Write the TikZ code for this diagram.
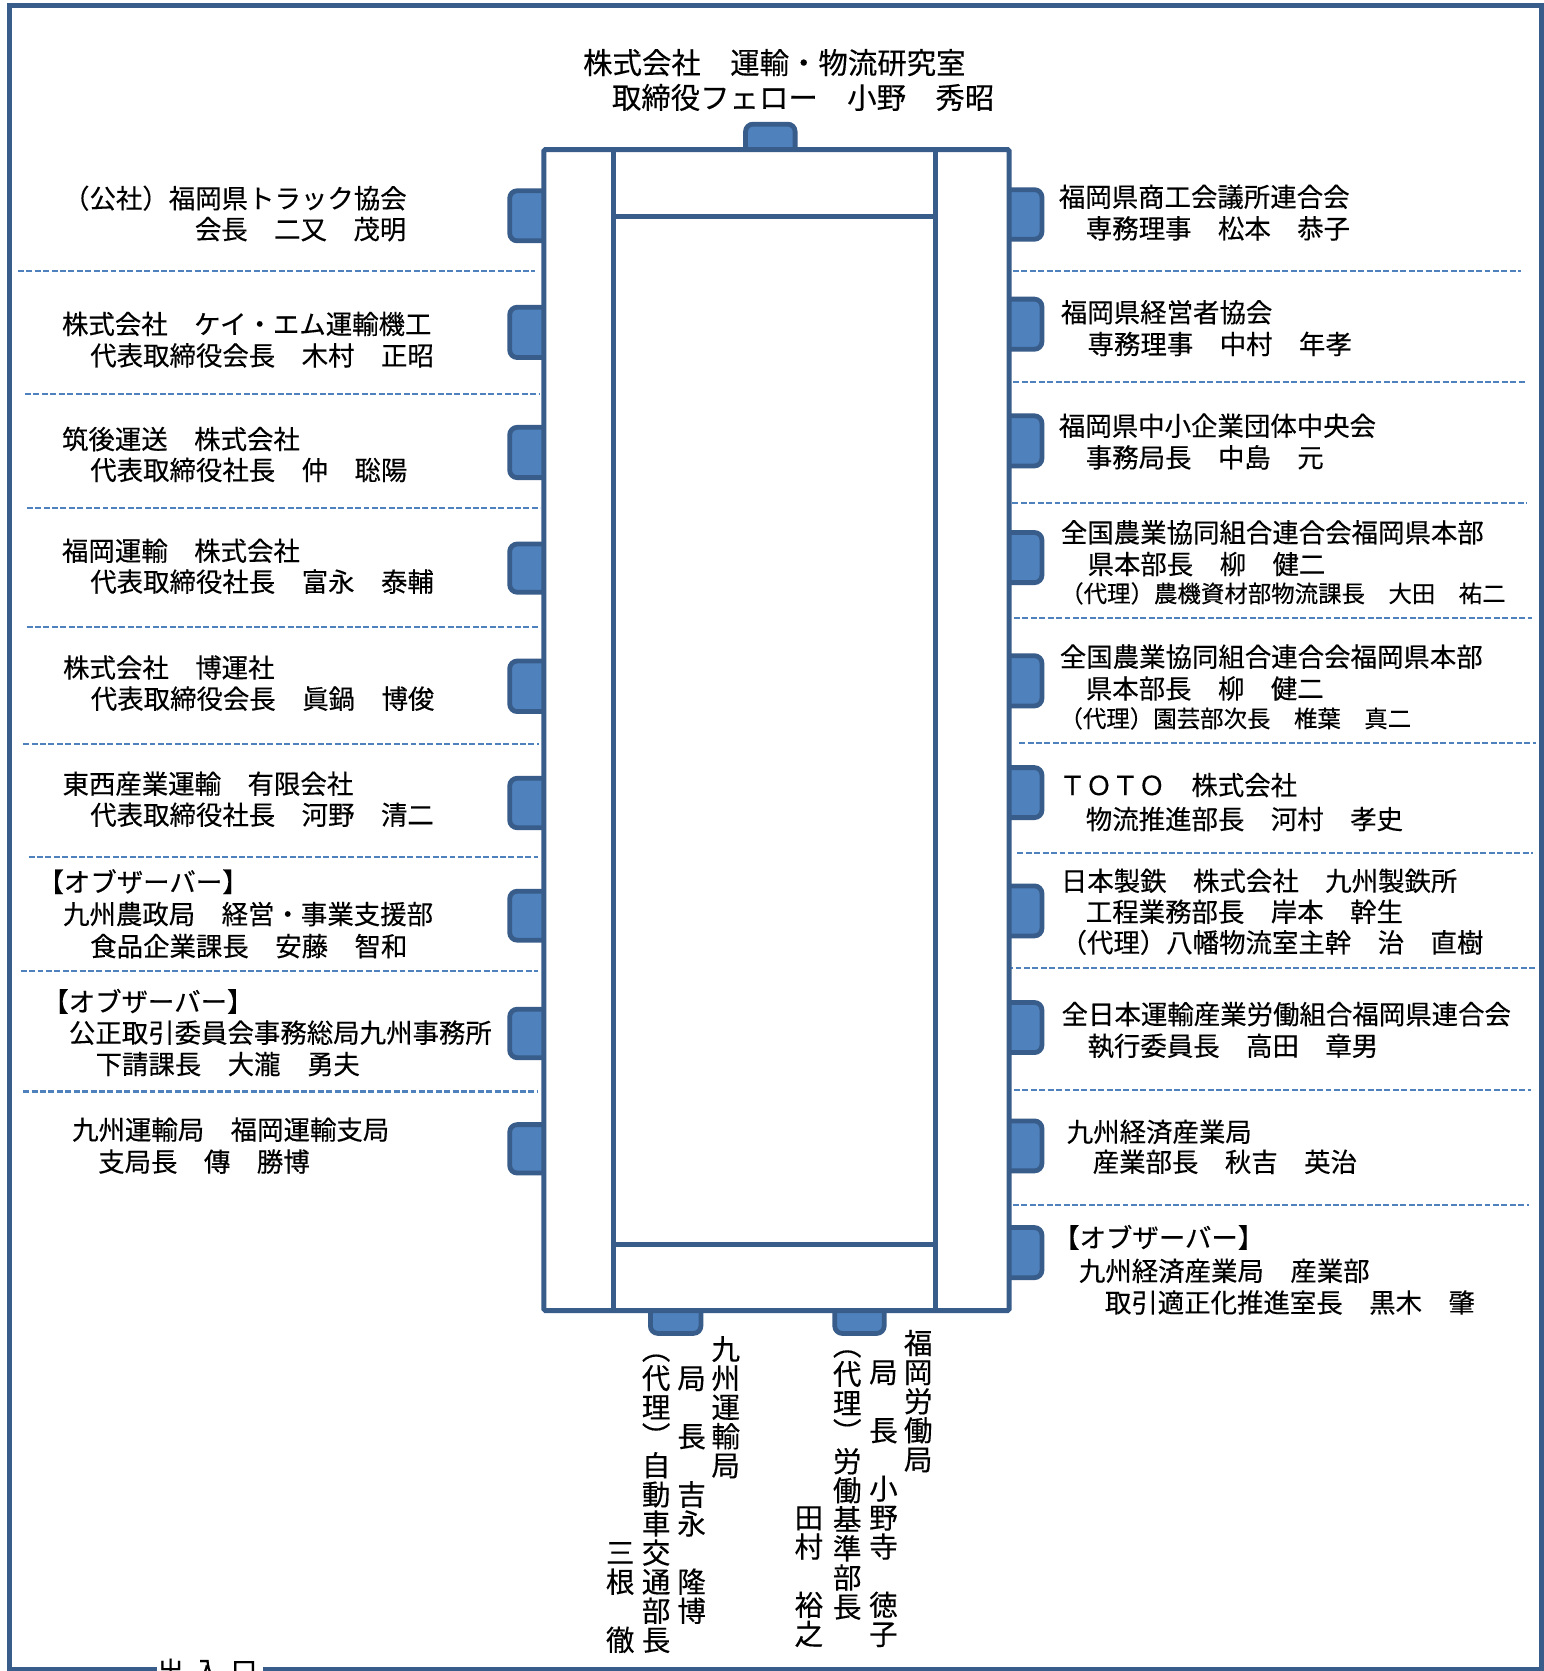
\documentclass[tikz,border=0pt]{standalone}
\usepackage{fontspec}
\newfontfamily\jp[FakeBold=0.3]{Noto Sans CJK JP}
\definecolor{frameblue}{HTML}{385D8A}
\definecolor{tabblue}{HTML}{4F81BD}
\newcommand\vcstrut{\vrule height 23.84pt depth 3.46pt width 0pt}
\ExplSyntaxOn
\NewDocumentCommand\vcol{m}
  {
    \vtop
      {
        \offinterlineskip
        \tl_map_inline:nn {#1}
          { \hbox_to_wd:nn {1em} { \hss \vcstrut ##1 \hss } }
      }
  }
\ExplSyntaxOff
\begin{document}
\begin{tikzpicture}[x=1pt,y=-1pt,
  lbl/.style={font=\jp\fontsize{24.8}{30}\selectfont, inner sep=0pt, text height=21.8pt, text depth=3pt, anchor=west},
  lblsm/.style={lbl, font=\jp\fontsize{22}{26}\selectfont, text height=19.4pt, text depth=2.6pt},
  ttl/.style={lbl, font=\jp\fontsize{27.6}{33}\selectfont, text height=24.3pt, text depth=3.3pt},
  vtxt/.style={font=\jp\fontsize{26.8}{27.3}\selectfont, inner sep=0pt, anchor=north},
  tabbox/.style={draw=frameblue, fill=tabblue, line width=4.5pt, rounded corners=7pt},
  sep/.style={draw=tabblue, line width=1.9pt, dash pattern=on 5.6pt off 2.3pt},
  tbl/.style={draw=frameblue, line width=4.7pt},
  frameline/.style={draw=frameblue, line width=4.7pt}
]
\useasboundingbox (0,0) rectangle (1448,1568);
\fill[white] (0,0) rectangle (1448,1568);

% separators
\foreach \y/\a/\b in {254/16.8/501.7, 369.8/23.5/506.8, 477/25.1/507, 588/25/506,
  698.5/21.8/506, 804/26.8/505, 911.2/19.4/505, 1024.2/21.8/505}
  \draw[sep] (\a,\y) -- (\b,\y);
\foreach \y/\a/\b in {254/950.6/1427.4, 358.8/951/1431.7, 472.3/950/1433, 580.3/951.5/1437.2,
  697.6/956.3/1441, 800.8/954.7/1438.7, 908.7/945/1440.5, 1022.9/951.5/1437, 1130.8/950.6/1435}
  \draw[sep] (\a,\y) -- (\b,\y);

% chair tabs
\foreach \t/\b in {179/226, 288.3/335.5, 401/448.2, 510.5/555.7, 620.3/667.7,
  730.3/776.7, 836.3/882.2, 947/992.5, 1055.3/1100.7}
  \draw[tabbox] (478.3,\t) rectangle (540,\b);
\foreach \t/\b in {178/224.5, 280.7/327.7, 390.2/437.2, 499.7/546.7, 615.3/662.4,
  720.3/767.2, 831.3/878.2, 940.7/987.7, 1051.8/1098.7, 1151.9/1198.9}
  \draw[tabbox] (920,\t) rectangle (977.7,\b);
\draw[tabbox] (699.6,116.5) rectangle (746.1,170);
\draw[tabbox] (610.3,1200) rectangle (657.7,1251.2);
\draw[tabbox] (783.3,1200) rectangle (829.7,1251.2);

% table
\fill[white] (510.3,140.3) rectangle (946.9,1229.8);
\draw[tbl, rounded corners=1.5pt] (510.3,140.3) rectangle (946.9,1229.8);
\draw[tbl] (575.3,140.3) -- (575.3,1229.8);
\draw[tbl] (877.9,140.3) -- (877.9,1229.8);
\draw[tbl] (575.3,202.7) -- (877.9,202.7);
\draw[tbl] (575.3,1167.6) -- (877.9,1167.6);

% outer frame
\draw[frameline] (147,1566.3) -- (8.9,1566.3) -- (8.9,5) -- (1446.4,5) -- (1446.4,1566.3) -- (247,1566.3);
\node[lbl, anchor=base] (door) at (194.6,1577) {出\kern9.6pt入\kern9.6pt口};

% title
\node[ttl] (t1) at (547,58.7) {株式会社　運輸・物流研究室};
\node[ttl] (t2) at (574,91.4) {取締役フェロー　小野　秀昭};

% left side
\node[lbl] (a1) at (59,186) {（公社）福岡県トラック協会};
\node[lbl] (a2) at (182.7,215) {会長　二又　茂明};
\node[lbl] (b1) at (58,304) {株式会社　ケイ・エム運輸機工};
\node[lbl] (b2) at (84.5,333.5) {代表取締役会長　木村　正昭};
\node[lbl] (c1) at (58,412) {筑後運送　株式会社};
\node[lbl] (c2) at (84.5,441) {代表取締役社長　仲　聡陽};
\node[lbl] (d1) at (58,516.8) {福岡運輸　株式会社};
\node[lbl] (d2) at (84.5,545.8) {代表取締役社長　富永　泰輔};
\node[lbl] (e1) at (59,626.4) {株式会社　博運社};
\node[lbl] (e2) at (85,655.6) {代表取締役会長　眞鍋　博俊};
\node[lbl] (f1) at (58.5,735.4) {東西産業運輸　有限会社};
\node[lbl] (f2) at (84.5,764.5) {代表取締役社長　河野　清二};
\node[lbl] (g1) at (35,827.5) {【オブザーバー】};
\node[lbl] (g2) at (59,857.7) {九州農政局　経営・事業支援部};
\node[lbl] (g3) at (84.5,887.8) {食品企業課長　安藤　智和};
\node[lbl] (h1) at (39.5,939.8) {【オブザーバー】};
\node[lbl] (h2) at (64.5,969) {公正取引委員会事務総局九州事務所};
\node[lbl] (h3) at (89.5,998.5) {下請課長　大瀧　勇夫};
\node[lbl] (i1) at (67.5,1060) {九州運輸局　福岡運輸支局};
\node[lbl] (i2) at (92,1090) {支局長　傳　勝博};

% right side
\node[lbl] (r1a) at (993.4,184.6) {福岡県商工会議所連合会};
\node[lbl] (r1b) at (1018.7,214.3) {専務理事　松本　恭子};
\node[lbl] (r2a) at (995.3,293) {福岡県経営者協会};
\node[lbl] (r2b) at (1020.3,322.8) {専務理事　中村　年孝};
\node[lbl] (r3a) at (993.4,399.5) {福岡県中小企業団体中央会};
\node[lbl] (r3b) at (1018.7,429.2) {事務局長　中島　元};
\node[lbl] (r4a) at (995.3,499.6) {全国農業協同組合連合会福岡県本部};
\node[lbl] (r4b) at (1020.3,529.3) {県本部長　柳　健二};
\node[lblsm] (r4c) at (994.7,556.8) {（代理）農機資材部物流課長　大田　祐二};
\node[lbl] (r5a) at (994.3,616.2) {全国農業協同組合連合会福岡県本部};
\node[lbl] (r5b) at (1018.7,646) {県本部長　柳　健二};
\node[lblsm] (r5c) at (994,674.1) {（代理）園芸部次長　椎葉　真二};
\node[lbl] (r6a) at (993.8,736.7) {ＴＯＴＯ　株式会社};
\node[lbl] (r6b) at (1018.7,768.6) {物流推進部長　河村　孝史};
\node[lbl] (r7a) at (995.3,826.5) {日本製鉄　株式会社　九州製鉄所};
\node[lbl] (r7b) at (1018.7,855.5) {工程業務部長　岸本　幹生};
\node[lbl] (r7c) at (995,884.3) {（代理）八幡物流室主幹　治　直樹};
\node[lbl] (r8a) at (996,951.6) {全日本運輸産業労働組合福岡県連合会};
\node[lbl] (r8b) at (1020.3,981.3) {執行委員長　高田　章男};
\node[lbl] (r9a) at (1000.8,1062) {九州経済産業局};
\node[lbl] (r9b) at (1025.2,1090.2) {産業部長　秋吉　英治};
\node[lbl] (r10a) at (988,1161.2) {【オブザーバー】};
\node[lbl] (r10b) at (1012.2,1192.5) {九州経済産業局　産業部};
\node[lbl] (r10c) at (1036.6,1222.2) {取引適正化推進室長　黒木　肇};

% bottom vertical texts
\node[vtxt] (va) at (681,1251.9) {\vcol{九州運輸局}};
\node[vtxt] (vb) at (649,1251.9) {\vcol{　局　長　吉永　隆博}};
\node[vtxt] (vc) at (615.7,1251.9) {\vcol{︵代理︶自動車交通部長}};
\node[vtxt] (vd) at (582,1251.9) {\vcol{　　　　　　　三根　徹}};
\node[vtxt] (ve) at (861.6,1246.3) {\vcol{福岡労働局}};
\node[vtxt] (vf) at (829,1246.3) {\vcol{　局　長　小野寺　徳子}};
\node[vtxt] (vg) at (795,1248) {\vcol{︵代理︶労働基準部長}};
\node[vtxt] (vh) at (759,1246.3) {\vcol{　　　　　　田村　裕之}};
\end{tikzpicture}
\end{document}
